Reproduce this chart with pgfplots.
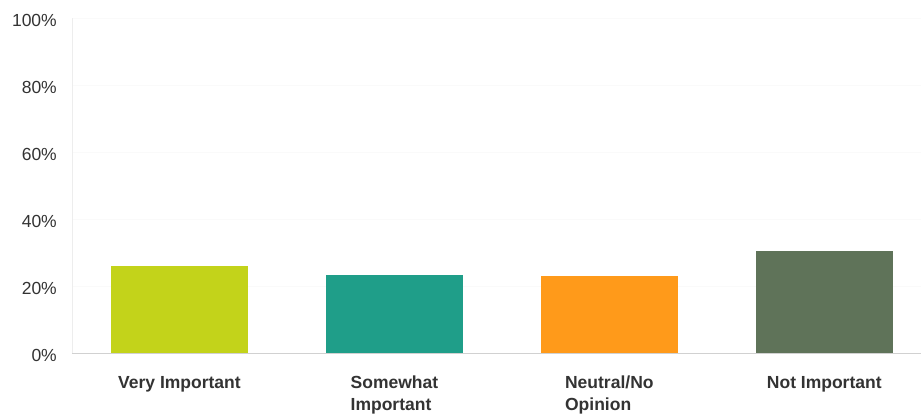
\documentclass[border=0pt]{standalone}
\usepackage{pgfplots}
\pgfplotsset{compat=1.18}
\usepackage{fontspec}
\setmainfont{Liberation Sans}
\definecolor{cVery}{HTML}{C3D31A}
\definecolor{cSome}{HTML}{1F9E89}
\definecolor{cNeut}{HTML}{FF9A1A}
\definecolor{cNot}{HTML}{5F7359}
\definecolor{txt}{HTML}{333333}
\begin{document}
\begin{tikzpicture}
\begin{axis}[
  scale only axis,
  width=849pt, height=335pt,
  xmin=-0.5, xmax=3.45,
  ymin=0, ymax=100,
  ybar, bar width=0.64, bar shift=0pt,
  axis x line*=bottom, axis y line*=left,
  x axis line style={draw=black!18, line width=0.8pt, -},
  y axis line style={draw=black!7, line width=0.8pt, -},
  ytick={0,20,40,60,80,100},
  yticklabel={\pgfmathprintnumber{\tick}\%},
  /pgf/number format/assume math mode=true,
  ymajorgrids, grid style={draw=black!2},
  major tick length=0pt,
  xtick={0,1,2,3},
  xticklabels={Very Important, Somewhat\\Important, Neutral/No\\Opinion, Not Important},
  yticklabel style={font=\fontsize{17.5}{21}\selectfont, text=txt, anchor=east, inner sep=0pt, xshift=-15pt, yshift=-2pt},
  xticklabel style={font=\fontsize{17.5}{22}\selectfont\bfseries, text=txt, align=left, anchor=north, inner sep=0pt, yshift=-23pt},
  clip=false,
]
\addplot[fill=cVery, draw=none] coordinates {(0,25.9)};
\addplot[fill=cSome, draw=none] coordinates {(1,23.3)};
\addplot[fill=cNeut, draw=none] coordinates {(2,22.9)};
\addplot[fill=cNot, draw=none] coordinates {(3,30.3)};
\end{axis}
\pgfresetboundingbox
\useasboundingbox (-72pt,-62pt) rectangle (849pt,353pt);
\end{tikzpicture}
\end{document}
